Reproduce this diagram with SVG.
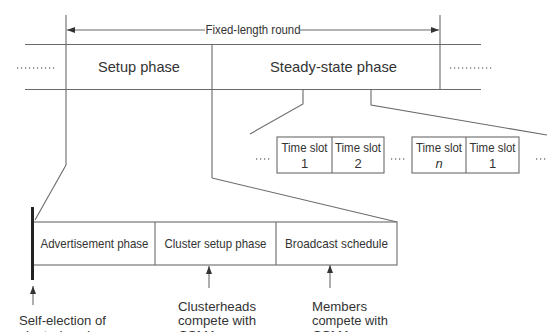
<svg xmlns="http://www.w3.org/2000/svg" width="548" height="332" viewBox="0 0 548 332">
<style>
.ln{stroke:#6a6a6a;stroke-width:1.1;fill:none}
.bx{stroke:#6a6a6a;stroke-width:1.1;fill:#fff}
.dt{stroke:#777;stroke-width:1.3;stroke-dasharray:1.2 2.8;fill:none}
.t{font-family:"Liberation Sans",Arial,sans-serif;fill:#333}
.big{font-size:15px}
.mid{font-size:13px}
.sm{font-size:12.5px}
.lab{font-size:13.5px}
</style>
<defs>
<marker id="ah" viewBox="0 0 8 6" refX="8" refY="3" markerWidth="8" markerHeight="6" markerUnits="userSpaceOnUse" orient="auto">
<path d="M0,0 L8,3 L0,6 Z" fill="#333"/>
</marker>
</defs>
<rect width="548" height="332" fill="#fff"/>

<g id="connectors">
<line class="ln" x1="66" y1="15" x2="66" y2="165"/>
<line class="ln" x1="66" y1="165" x2="35" y2="220"/>
<line class="ln" x1="212" y1="44.5" x2="212" y2="178"/>
<line class="ln" x1="212" y1="178" x2="397" y2="222"/>
<line class="ln" x1="440" y1="15" x2="440" y2="89.5"/>
<polyline class="ln" points="303,89.5 303,104 250,134"/>
<polyline class="ln" points="371,89.5 371,105 547,135"/>
<line class="ln" x1="205" y1="30" x2="67" y2="30" marker-end="url(#ah)"/>
<line class="ln" x1="300" y1="30" x2="439" y2="30" marker-end="url(#ah)"/>
<line class="ln" x1="33" y1="305" x2="33" y2="286" marker-end="url(#ah)"/>
<line class="ln" x1="209" y1="288" x2="209" y2="266" marker-end="url(#ah)"/>
<line class="ln" x1="330" y1="288" x2="330" y2="265" marker-end="url(#ah)"/>
</g>

<g id="round">
<text class="t sm" x="253" y="34" text-anchor="middle" textLength="95" lengthAdjust="spacingAndGlyphs">Fixed-length round</text>
<line class="ln" x1="25" y1="44.5" x2="481" y2="44.5"/>
<line class="ln" x1="25" y1="89.5" x2="481" y2="89.5"/>
<line class="dt" x1="17" y1="68" x2="55" y2="68"/>
<line class="dt" x1="450" y1="68" x2="493" y2="68"/>
</g>

<g id="setup-phase">
<text class="t big" x="139" y="72" text-anchor="middle" textLength="82" lengthAdjust="spacingAndGlyphs">Setup phase</text>
</g>

<g id="steady-state-phase">
<text class="t big" x="333.5" y="72" text-anchor="middle" textLength="127" lengthAdjust="spacingAndGlyphs">Steady-state phase</text>
</g>

<g id="time-slots">
<line class="dt" x1="256" y1="159" x2="270" y2="159"/>
<line class="dt" x1="391" y1="159" x2="405" y2="159"/>
<line class="dt" x1="536" y1="159" x2="548" y2="159"/>
<rect class="bx" x="277" y="137" width="107" height="36"/>
<line class="ln" x1="332" y1="137" x2="332" y2="173"/>
<rect class="bx" x="412" y="137" width="107" height="36"/>
<line class="ln" x1="466" y1="137" x2="466" y2="173"/>
<g id="slot-1">
<text class="t mid" x="304.5" y="152" text-anchor="middle" textLength="46" lengthAdjust="spacingAndGlyphs">Time slot</text>
<text class="t mid" x="304.5" y="168" text-anchor="middle">1</text>
</g>
<g id="slot-2">
<text class="t mid" x="358" y="152" text-anchor="middle" textLength="46" lengthAdjust="spacingAndGlyphs">Time slot</text>
<text class="t mid" x="358" y="168" text-anchor="middle">2</text>
</g>
<g id="slot-n">
<text class="t mid" x="439" y="152" text-anchor="middle" textLength="46" lengthAdjust="spacingAndGlyphs">Time slot</text>
<text class="t mid" x="439" y="168" text-anchor="middle" font-style="italic">n</text>
</g>
<g id="slot-1b">
<text class="t mid" x="492.5" y="152" text-anchor="middle" textLength="46" lengthAdjust="spacingAndGlyphs">Time slot</text>
<text class="t mid" x="492.5" y="168" text-anchor="middle">1</text>
</g>
</g>

<g id="setup-detail">
<rect class="bx" x="33" y="222" width="364" height="43"/>
<line class="ln" x1="155" y1="222" x2="155" y2="265"/>
<line class="ln" x1="276" y1="222" x2="276" y2="265"/>
<line x1="32.5" y1="207" x2="32.5" y2="280" stroke="#222" stroke-width="3"/>
<g id="advertisement-phase">
<text class="t mid" x="94.5" y="248" text-anchor="middle" textLength="108" lengthAdjust="spacingAndGlyphs">Advertisement phase</text>
</g>
<g id="cluster-setup-phase">
<text class="t mid" x="215.5" y="248" text-anchor="middle" textLength="102" lengthAdjust="spacingAndGlyphs">Cluster setup phase</text>
</g>
<g id="broadcast-schedule">
<text class="t mid" x="336.5" y="248" text-anchor="middle" textLength="103" lengthAdjust="spacingAndGlyphs">Broadcast schedule</text>
</g>
</g>

<g id="self-election">
<text class="t lab" x="19" y="325" textLength="87" lengthAdjust="spacingAndGlyphs">Self-election of</text>
<text class="t lab" x="19" y="340" textLength="78" lengthAdjust="spacingAndGlyphs">clusterheads</text>
</g>
<g id="clusterheads-note">
<text class="t lab" x="178" y="310.5" textLength="78" lengthAdjust="spacingAndGlyphs">Clusterheads</text>
<text class="t lab" x="178" y="325" textLength="78" lengthAdjust="spacingAndGlyphs">compete with</text>
<text class="t lab" x="178" y="340">CSMA</text>
</g>
<g id="members-note">
<text class="t lab" x="312" y="310.5" textLength="55" lengthAdjust="spacingAndGlyphs">Members</text>
<text class="t lab" x="312" y="325" textLength="76" lengthAdjust="spacingAndGlyphs">compete with</text>
<text class="t lab" x="312" y="340">CSMA</text>
</g>
</svg>
